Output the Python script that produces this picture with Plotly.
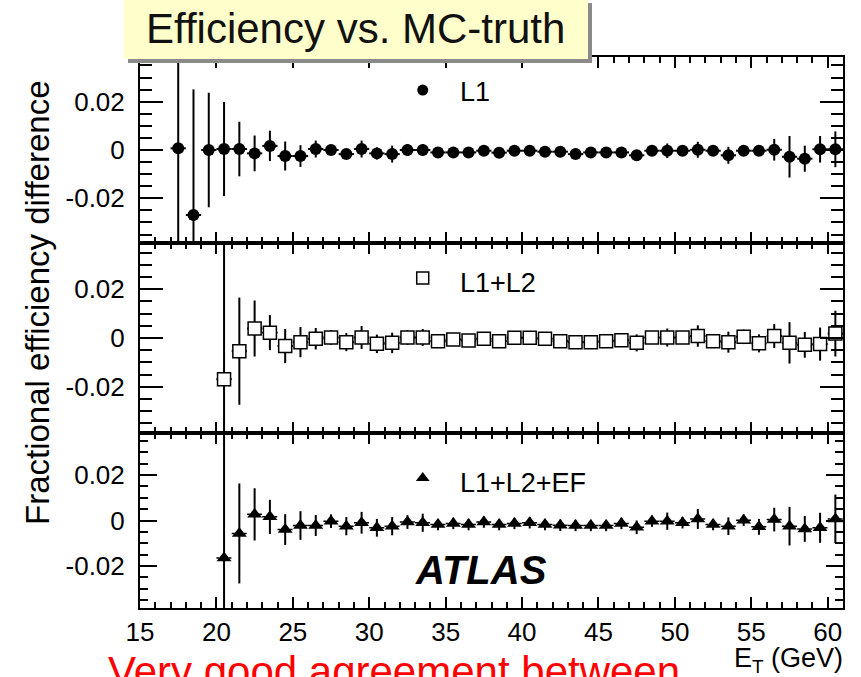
import plotly.graph_objects as go
from plotly.subplots import make_subplots

# ---------------------------------------------------------------- data
# E_T bin centres (GeV)
et_l1 = [17.5, 18.5, 19.5, 20.5, 21.5, 22.5, 23.5, 24.5, 25.5, 26.5, 27.5,
         28.5, 29.5, 30.5, 31.5, 32.5, 33.5, 34.5, 35.5, 36.5, 37.5, 38.5,
         39.5, 40.5, 41.5, 42.5, 43.5, 44.5, 45.5, 46.5, 47.5, 48.5, 49.5,
         50.5, 51.5, 52.5, 53.5, 54.5, 55.5, 56.5, 57.5, 58.5, 59.5, 60.5]
et_hlt = [20.5, 21.5, 22.5, 23.5, 24.5, 25.5, 26.5, 27.5, 28.5, 29.5, 30.5,
          31.5, 32.5, 33.5, 34.5, 35.5, 36.5, 37.5, 38.5, 39.5, 40.5, 41.5,
          42.5, 43.5, 44.5, 45.5, 46.5, 47.5, 48.5, 49.5, 50.5, 51.5, 52.5,
          53.5, 54.5, 55.5, 56.5, 57.5, 58.5, 59.5, 60.5]

# fractional efficiency difference, L1 only
diff_l1 = [0.0007, -0.0269, 0.0000, 0.0004, 0.0004, -0.0014, 0.0017, -0.0025,
           -0.0025, 0.0004, 0.0000, -0.0017, 0.0004, -0.0014, -0.0017, 0.0000,
           0.0000, -0.0010, -0.0010, -0.0010, -0.0003, -0.0011, -0.0003, -0.0003,
           -0.0007, -0.0007, -0.0017, -0.0010, -0.0010, -0.0010, -0.0022, -0.0003,
           -0.0003, -0.0003, 0.0001, -0.0003, -0.0022, -0.0003, -0.0003, 0.0001,
           -0.0028, -0.0036, 0.0003, 0.0003]
err_l1 = [0.0800, 0.0520, 0.0237, 0.0195, 0.0113, 0.0074, 0.0063, 0.0060,
          0.0045, 0.0035, 0.0020, 0.0020, 0.0035, 0.0025, 0.0035, 0.0025,
          0.0025, 0.0015, 0.0015, 0.0015, 0.0015, 0.0015, 0.0015, 0.0015,
          0.0015, 0.0015, 0.0015, 0.0015, 0.0015, 0.0015, 0.0020, 0.0020,
          0.0030, 0.0020, 0.0033, 0.0020, 0.0035, 0.0020, 0.0020, 0.0045,
          0.0086, 0.0054, 0.0055, 0.0074]

# L1+L2
diff_l2 = [-0.0169, -0.0054, 0.0039, 0.0022, -0.0033, -0.0017, -0.0003, 0.0002,
           -0.0017, 0.0002, -0.0024, -0.0020, 0.0002, 0.0002, -0.0013, -0.0006,
           -0.0010, -0.0003, -0.0013, 0.0001, 0.0001, -0.0003, -0.0013, -0.0017,
           -0.0017, -0.0013, -0.0009, -0.0020, 0.0002, 0.0002, 0.0002, 0.0008,
           -0.0013, -0.0017, 0.0005, -0.0022, 0.0008, -0.0020, -0.0028, -0.0025,
           0.0018]
err_l2 = [0.0800, 0.0220, 0.0115, 0.0072, 0.0070, 0.0062, 0.0044, 0.0030,
          0.0037, 0.0047, 0.0038, 0.0042, 0.0030, 0.0035, 0.0025, 0.0025,
          0.0025, 0.0025, 0.0025, 0.0025, 0.0025, 0.0025, 0.0025, 0.0025,
          0.0025, 0.0025, 0.0025, 0.0035, 0.0025, 0.0037, 0.0020, 0.0044,
          0.0025, 0.0043, 0.0030, 0.0037, 0.0049, 0.0085, 0.0053, 0.0068,
          0.0094]

# L1+L2+EF
diff_ef = [-0.0165, -0.0057, 0.0027, 0.0016, -0.0040, -0.0022, -0.0022, -0.0003,
           -0.0025, -0.0010, -0.0032, -0.0025, -0.0007, -0.0010, -0.0018, -0.0013,
           -0.0018, -0.0007, -0.0018, -0.0013, -0.0010, -0.0018, -0.0021, -0.0022,
           -0.0022, -0.0022, -0.0013, -0.0030, -0.0003, -0.0003, -0.0010, 0.0007,
           -0.0018, -0.0025, 0.0001, -0.0028, 0.0004, -0.0025, -0.0037, -0.0032,
           0.0007]
err_ef = [0.0800, 0.0220, 0.0115, 0.0075, 0.0068, 0.0063, 0.0046, 0.0030,
          0.0040, 0.0048, 0.0039, 0.0040, 0.0030, 0.0040, 0.0025, 0.0025,
          0.0025, 0.0025, 0.0025, 0.0025, 0.0025, 0.0025, 0.0025, 0.0025,
          0.0025, 0.0025, 0.0025, 0.0030, 0.0025, 0.0038, 0.0025, 0.0044,
          0.0025, 0.0039, 0.0025, 0.0035, 0.0052, 0.0085, 0.0057, 0.0066,
          0.0107]

labels = ["L1", "L1+L2", "L1+L2+EF"]
x_ticks = [15, 20, 25, 30, 35, 40, 45, 50, 55, 60]
y_ticks = [-0.02, 0, 0.02]
y_ticktext = ["-0.02", "0", "0.02"]

# ---------------------------------------------------------------- layout
W, H = 861, 677
ML, MR, MT, MB = 140, 18, 57, 69
PW, PH = W - ML - MR, H - MT - MB
FONT = "Liberation Sans, Arial, Helvetica, sans-serif"
HALF_BIN = 0.5


def px(xp):
    return (xp - ML) / PW


def py(yp):
    return (H - MB - yp) / PH


fig = make_subplots(rows=3, cols=1, vertical_spacing=0)

err_style = dict(type="data", thickness=2, width=0, color="black")

# L1: filled circles
fig.add_trace(go.Scatter(
    x=et_l1, y=diff_l1, mode="markers",
    marker=dict(symbol="circle", size=12, color="black"),
    error_y=dict(array=err_l1, **err_style),
    error_x=dict(type="constant", value=HALF_BIN, thickness=2, width=0, color="black"),
    showlegend=False), row=1, col=1)

# L1+L2: open squares
fig.add_trace(go.Scatter(
    x=et_hlt, y=diff_l2, mode="markers",
    marker=dict(symbol="square", size=13, color="white",
                line=dict(color="black", width=1.5)),
    error_y=dict(array=err_l2, **err_style),
    error_x=dict(type="constant", value=HALF_BIN, thickness=2, width=0, color="black"),
    showlegend=False), row=2, col=1)

# L1+L2+EF: dotted bin-width segments plus filled triangles
seg_x, seg_y = [], []
for xv, yv in zip(et_hlt, diff_ef):
    seg_x += [xv - HALF_BIN, xv + HALF_BIN, None]
    seg_y += [yv, yv, None]
fig.add_trace(go.Scatter(
    x=seg_x, y=seg_y, mode="lines",
    line=dict(color="black", width=1.5, dash="dot"),
    showlegend=False, hoverinfo="skip"), row=3, col=1)
fig.add_trace(go.Scatter(
    x=et_hlt, y=diff_ef, mode="markers",
    marker=dict(symbol="triangle-up", size=13, color="black"),
    error_y=dict(array=err_ef, **err_style),
    showlegend=False), row=3, col=1)

# legend symbols inside each panel
fig.add_trace(go.Scatter(x=[33.5], y=[0.0248], mode="markers",
                         marker=dict(symbol="circle", size=11, color="black"),
                         showlegend=False, hoverinfo="skip"), row=1, col=1)
fig.add_trace(go.Scatter(x=[33.5], y=[0.0246], mode="markers",
                         marker=dict(symbol="square", size=12, color="white",
                                     line=dict(color="black", width=1.5)),
                         showlegend=False, hoverinfo="skip"), row=2, col=1)
fig.add_trace(go.Scatter(x=[33.5], y=[0.0187], mode="markers",
                         marker=dict(symbol="triangle-up", size=12, color="black"),
                         showlegend=False, hoverinfo="skip"), row=3, col=1)

domains = [[py(243), 1.0], [py(433), py(243)], [0.0, py(433)]]
y_ranges = [[-0.0385, 0.0385], [-0.039, 0.039], [-0.0385, 0.0385]]
y_major = [23, 23, 17]
y_minor = [12, 12, 8]

for i in range(3):
    r = i + 1
    fig.update_xaxes(
        row=r, col=1, range=[15, 61], tickvals=x_ticks,
        ticktext=[str(v) for v in x_ticks],
        showticklabels=(r == 3),
        ticks="inside", ticklen=11, tickwidth=1.5, tickcolor="black",
        minor=dict(dtick=1, tick0=15, ticks="inside", ticklen=6,
                   tickwidth=1.5, tickcolor="black", showgrid=False),
        showline=True, linewidth=2, linecolor="black", mirror="allticks",
        showgrid=False, zeroline=False,
        tickfont=dict(family=FONT, size=26, color="black"),
        ticklabelstandoff=0)
    fig.update_yaxes(
        row=r, col=1, range=y_ranges[i], domain=domains[i],
        tickvals=y_ticks, ticktext=y_ticktext,
        ticks="inside", ticklen=y_major[i], tickwidth=1.5, tickcolor="black",
        minor=dict(dtick=0.005, tick0=0, ticks="inside", ticklen=y_minor[i],
                   tickwidth=1.5, tickcolor="black", showgrid=False),
        showline=True, linewidth=2, linecolor="black", mirror="allticks",
        showgrid=False, zeroline=False,
        tickfont=dict(family=FONT, size=26, color="black"),
        ticklabelstandoff=8)

annotations = [
    # panel labels
    dict(x=px(458), y=py(92), text=labels[0], xanchor="left", yanchor="middle",
         font=dict(size=27)),
    dict(x=px(458), y=py(283), text=labels[1], xanchor="left", yanchor="middle",
         font=dict(size=27)),
    dict(x=px(458), y=py(483), text=labels[2], xanchor="left", yanchor="middle",
         font=dict(size=27)),
    # experiment label
    dict(x=px(413), y=py(570), text="<b><i>ATLAS</i></b>", xanchor="left",
         yanchor="middle", font=dict(size=40)),
    # axis titles
    dict(x=px(37), y=py(303), text="Fractional efficiency difference",
         textangle=-90, xanchor="center", yanchor="middle", font=dict(size=33)),
    dict(x=px(845), y=py(660), text="E<sub>T</sub> (GeV)", xanchor="right",
         yanchor="middle", font=dict(size=27)),
    # heading inside the yellow box
    dict(x=px(355), y=py(29), text="Efficiency vs. MC-truth", xanchor="center",
         yanchor="middle", font=dict(size=42, color="#111111")),
    # caption line running off the bottom edge
    dict(x=px(106), y=py(671), text="Very good agreement between",
         xanchor="left", yanchor="middle", font=dict(size=42, color="#ff0000")),
]
for a in annotations:
    a.update(xref="paper", yref="paper", showarrow=False)
    a["font"].setdefault("color", "black")
    a["font"]["family"] = FONT

shapes = [
    dict(type="rect", xref="paper", yref="paper",
         x0=px(128), x1=px(592), y0=py(63), y1=py(3),
         fillcolor="#8a8a8a", line=dict(width=0), layer="above"),
    dict(type="rect", xref="paper", yref="paper",
         x0=px(124), x1=px(588), y0=py(59), y1=py(-5),
         fillcolor="#ffffcc", line=dict(width=0), layer="above"),
]

fig.update_layout(
    width=W, height=H,
    margin=dict(l=ML, r=MR, t=MT, b=MB),
    paper_bgcolor="white", plot_bgcolor="white",
    font=dict(family=FONT, color="black"),
    annotations=annotations, shapes=shapes,
    showlegend=False,
)

fig.write_html("out.html")
